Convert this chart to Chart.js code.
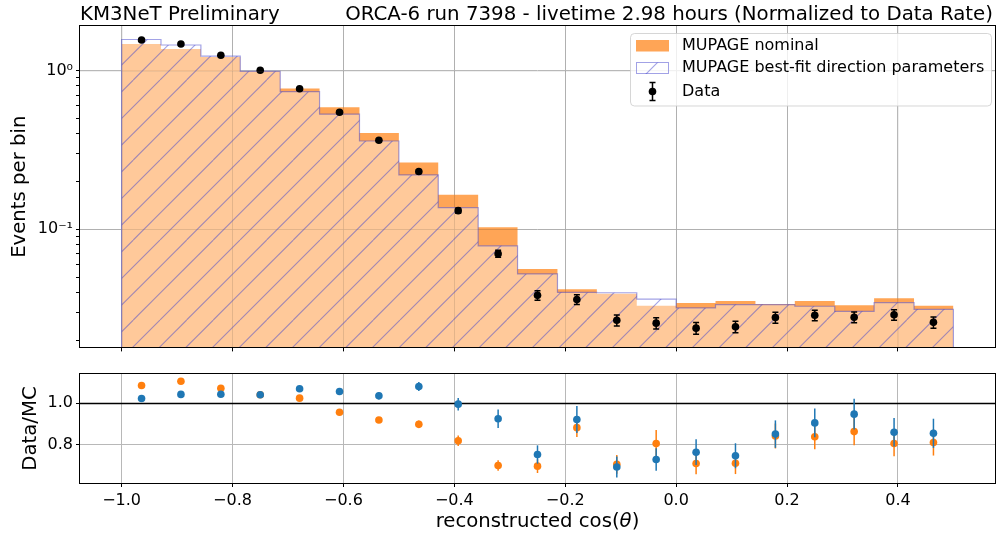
<!DOCTYPE html>
<html><head><meta charset="utf-8">
<script src="https://cdn.jsdelivr.net/npm/chart.js@4"></script>
<style>
html,body{margin:0;padding:0;background:#fff;}
#wrap{position:relative;width:1003px;height:535px;overflow:hidden;}
#c1{position:absolute;left:0;top:0;}
#c2{position:absolute;left:0;top:360px;}
</style></head><body>
<div id="wrap"><canvas id="c1" width="1003" height="360"></canvas><canvas id="c2" width="1003" height="175"></canvas></div>
<script>
// ---------------- data ----------------
const binEdges = [-1.0, -0.929, -0.857, -0.786, -0.714, -0.643, -0.571, -0.5, -0.429, -0.357, -0.286,
                  -0.214, -0.143, -0.071, 0.0, 0.071, 0.143, 0.214, 0.286, 0.357, 0.429, 0.5];
const binCenters = [-0.964, -0.893, -0.821, -0.75, -0.679, -0.607, -0.536, -0.464, -0.393, -0.321, -0.25,
                    -0.179, -0.107, -0.036, 0.036, 0.107, 0.179, 0.25, 0.321, 0.393, 0.464];
const mupageNominal = [1.47, 1.37, 1.22, 0.99, 0.772, 0.587, 0.404, 0.263, 0.165, 0.103, 0.0562,
                       0.0419, 0.0392, 0.0329, 0.0343, 0.0353, 0.0338, 0.0353, 0.0332, 0.0367, 0.0329];
const mupageBestFit = [1.57, 1.45, 1.235, 0.99, 0.736, 0.531, 0.360, 0.220, 0.137, 0.0786, 0.0523,
                       0.0400, 0.0398, 0.0363, 0.0319, 0.0335, 0.0335, 0.0327, 0.0304, 0.0345, 0.0313];
const dataRate = [1.56, 1.47, 1.25, 1.005, 0.768, 0.546, 0.364, 0.231, 0.131, 0.0701, 0.0383,
                  0.0361, 0.0267, 0.0256, 0.0238, 0.0243, 0.0278, 0.0287, 0.0279, 0.0289, 0.0259];
const dataRateErr = [0.016, 0.016, 0.015, 0.013, 0.012, 0.0097, 0.0079, 0.0063, 0.0048, 0.0035, 0.0026,
                     0.0025, 0.0021, 0.0021, 0.0020, 0.0020, 0.0022, 0.0022, 0.0022, 0.0022, 0.0021];
const ratioBestFit = [1.022, 1.042, 1.043, 1.040, 1.069, 1.056, 1.035, 1.080, 0.995, 0.925, 0.753,
                      0.921, 0.693, 0.729, 0.764, 0.747, 0.851, 0.905, 0.947, 0.860, 0.855];
const ratioBestFitErr = [0.008, 0.008, 0.009, 0.010, 0.011, 0.013, 0.016, 0.022, 0.030, 0.044, 0.044,
                         0.065, 0.050, 0.054, 0.062, 0.060, 0.066, 0.069, 0.074, 0.068, 0.070];
const ratioNominal = [1.085, 1.105, 1.071, 1.040, 1.024, 0.956, 0.919, 0.898, 0.819, 0.700, 0.697,
                      0.882, 0.706, 0.806, 0.710, 0.711, 0.842, 0.838, 0.863, 0.806, 0.811];
const ratioNominalErr = [0.008, 0.008, 0.009, 0.010, 0.011, 0.012, 0.014, 0.018, 0.025, 0.025, 0.033,
                         0.045, 0.045, 0.065, 0.052, 0.052, 0.060, 0.060, 0.066, 0.061, 0.063];
const xTicks = [-1.0, -0.8, -0.6, -0.4, -0.2, 0.0, 0.2, 0.4];
const yTopMajorTicks = [0.1, 1];
const yTopMajorLabels = ['10\u207B\u00B9', '10\u2070'];
const yTopMinorTicks = [0.02, 0.03, 0.04, 0.05, 0.06, 0.07, 0.08, 0.09, 0.2, 0.3, 0.4, 0.5, 0.6, 0.7, 0.8, 0.9];
const yRatioTicks = [0.8, 1.0];
const ratioRefLine = 1.0;
const legendLabels = ['MUPAGE nominal', 'MUPAGE best-fit direction parameters', 'Data'];
const titleLeft = 'KM3NeT Preliminary';
const titleRight = 'ORCA-6 run 7398 - livetime 2.98 hours (Normalized to Data Rate)';

// ---------------- style ----------------
const X_MIN = -1.075, X_MAX = 0.575;
const Y_MIN = 0.018, Y_MAX = 1.91;
const R_MIN = 0.616, R_MAX = 1.14;
const FONT = '"DejaVu Sans", sans-serif';
const TICK_PX = 16, LABEL_PX = 19.7, TITLE_PX = 19.8, LEG_PX = 16;
const ORANGE_FILL = 'rgba(255,127,14,0.7)';
const HATCH_COL = 'rgba(70,70,205,0.5)';
const GRID_COL = '#b8b8b8';
const C_BLUE = '#1f77b4', C_ORANGE = '#ff7f0e';
const AXIS_LEFT = 80;

function makeHatch() {
  const s = 80, c = document.createElement('canvas');
  c.width = s; c.height = s;
  const g = c.getContext('2d');
  g.fillStyle = 'rgba(255,255,255,0.4)';
  g.fillRect(0, 0, s, s);
  g.strokeStyle = HATCH_COL; g.lineWidth = 1.1;
  for (let k = -3; k <= 3; k++) {
    const o = k * s / 3;
    g.beginPath(); g.moveTo(o, s); g.lineTo(o + s, 0); g.stroke();
  }
  return g.createPattern(c, 'repeat');
}
const hatch = makeHatch();

function stepPoints(vals) {
  const n = binEdges.length - 1;
  const pts = [{x: binEdges[0], y: Y_MIN}];
  vals.forEach((v, i) => pts.push({x: binEdges[i], y: v}));
  pts.push({x: binEdges[n], y: vals[vals.length - 1]});
  pts.push({x: binEdges[n], y: Y_MIN});
  return pts;
}
const fmtX = v => (v < 0 ? '\u2212' : '') + Math.abs(v).toFixed(1);

const errorBarPlugin = {
  id: 'errbars',
  beforeDatasetDraw(chart, args) {
    const ds = chart.data.datasets[args.index];
    if (!ds.errors) return;
    const ctx = chart.ctx, ys = chart.scales.y, a = chart.chartArea;
    ctx.save();
    ctx.beginPath(); ctx.rect(a.left, a.top, a.right - a.left, a.bottom - a.top); ctx.clip();
    ctx.strokeStyle = ds.errColor; ctx.lineWidth = 1.5;
    ds.data.forEach((p, i) => {
      const x = args.meta.data[i].x;
      const y1 = ys.getPixelForValue(p.y - ds.errors[i]);
      const y2 = ys.getPixelForValue(p.y + ds.errors[i]);
      ctx.beginPath(); ctx.moveTo(x, y1); ctx.lineTo(x, y2);
      if (ds.cap) {
        ctx.moveTo(x - ds.cap, y1); ctx.lineTo(x + ds.cap, y1);
        ctx.moveTo(x - ds.cap, y2); ctx.lineTo(x + ds.cap, y2);
      }
      ctx.stroke();
    });
    ctx.restore();
  }
};

function frame(chart) {
  const ctx = chart.ctx, a = chart.chartArea;
  ctx.save(); ctx.strokeStyle = '#000'; ctx.lineWidth = 1;
  ctx.strokeRect(Math.round(a.left) - 0.5, Math.round(a.top) - 0.5, Math.round(a.right - a.left) + 1, Math.round(a.bottom - a.top) + 1);
  ctx.restore();
}
function vText(ctx, txt, x, y, px) {
  ctx.save(); ctx.translate(x, y); ctx.rotate(-Math.PI / 2);
  ctx.font = px + 'px ' + FONT; ctx.fillStyle = '#000';
  ctx.textAlign = 'center'; ctx.textBaseline = 'middle';
  ctx.fillText(txt, 0, 0); ctx.restore();
}

const topDecor = {
  id: 'topDecor',
  afterDatasetsDraw(chart) {
    // faint grid showing through the filled histograms
    const ctx = chart.ctx, a = chart.chartArea, xs = chart.scales.x, ys = chart.scales.y;
    ctx.save(); ctx.strokeStyle = 'rgba(120,120,120,0.12)'; ctx.lineWidth = 1;
    ctx.beginPath();
    xTicks.forEach(v => { const x = Math.round(xs.getPixelForValue(v)) + 0.5; ctx.moveTo(x, a.top); ctx.lineTo(x, a.bottom); });
    yTopMajorTicks.forEach(v => { const y = Math.round(ys.getPixelForValue(v)) + 0.5; ctx.moveTo(a.left, y); ctx.lineTo(a.right, y); });
    ctx.stroke(); ctx.restore();
  },
  afterDraw(chart) {
    const ctx = chart.ctx, a = chart.chartArea;
    frame(chart);
    // titles
    ctx.save();
    ctx.font = TITLE_PX + 'px ' + FONT; ctx.fillStyle = '#000'; ctx.textBaseline = 'alphabetic';
    ctx.textAlign = 'left'; ctx.fillText(titleLeft, a.left, 19.5);
    ctx.textAlign = 'right'; ctx.fillText(titleRight, a.right - 2, 19.5);
    ctx.restore();
    vText(ctx, 'Events per bin', 20, (a.top + a.bottom) / 2, LABEL_PX);
    // legend
    ctx.save();
    const bx = 630.5, by = 33.5, bw = 361, bh = 72.5, r = 4;
    ctx.beginPath();
    ctx.moveTo(bx + r, by); ctx.lineTo(bx + bw - r, by); ctx.arcTo(bx + bw, by, bx + bw, by + r, r);
    ctx.lineTo(bx + bw, by + bh - r); ctx.arcTo(bx + bw, by + bh, bx + bw - r, by + bh, r);
    ctx.lineTo(bx + r, by + bh); ctx.arcTo(bx, by + bh, bx, by + bh - r, r);
    ctx.lineTo(bx, by + r); ctx.arcTo(bx, by, bx + r, by, r); ctx.closePath();
    ctx.fillStyle = 'rgba(255,255,255,0.8)'; ctx.fill();
    ctx.strokeStyle = 'rgba(204,204,204,0.8)'; ctx.lineWidth = 1; ctx.stroke();
    const rows = [45.5, 68, 91.5];
    ctx.fillStyle = ORANGE_FILL; ctx.fillRect(636, 40, 33, 11.5);
    ctx.fillStyle = hatch; ctx.fillRect(636, 62.5, 33, 11.5);
    ctx.strokeStyle = HATCH_COL; ctx.strokeRect(636.5, 62.5, 32, 11);
    ctx.strokeStyle = '#000'; ctx.lineWidth = 1.5;
    ctx.beginPath();
    ctx.moveTo(652.5, rows[2] - 9); ctx.lineTo(652.5, rows[2] + 9);
    ctx.moveTo(649.5, rows[2] - 9); ctx.lineTo(655.5, rows[2] - 9);
    ctx.moveTo(649.5, rows[2] + 9); ctx.lineTo(655.5, rows[2] + 9);
    ctx.stroke();
    ctx.fillStyle = '#000'; ctx.beginPath(); ctx.arc(652.5, rows[2], 3.8, 0, Math.PI * 2); ctx.fill();
    ctx.font = LEG_PX + 'px ' + FONT; ctx.textAlign = 'left'; ctx.textBaseline = 'middle';
    legendLabels.forEach((t, i) => ctx.fillText(t, 682, rows[i]));
    ctx.restore();
  }
};

const botDecor = {
  id: 'botDecor',
  beforeDatasetsDraw(chart) {
    const ctx = chart.ctx, a = chart.chartArea;
    const y = Math.round(chart.scales.y.getPixelForValue(ratioRefLine)) + 0.5;
    ctx.save(); ctx.strokeStyle = '#000'; ctx.lineWidth = 1.5;
    ctx.beginPath(); ctx.moveTo(a.left, y); ctx.lineTo(a.right, y); ctx.stroke(); ctx.restore();
  },
  afterDraw(chart) {
    const ctx = chart.ctx, a = chart.chartArea;
    frame(chart);
    vText(ctx, 'Data/MC', 31, (a.top + a.bottom) / 2, LABEL_PX);
    // x title with italic theta
    const parts = [['reconstructed cos(', 'normal'], ['\u03B8', 'italic'], [')', 'normal']];
    ctx.save(); ctx.fillStyle = '#000'; ctx.textBaseline = 'alphabetic';
    let w = 0;
    parts.forEach(p => { ctx.font = p[1] + ' ' + LABEL_PX + 'px ' + FONT; w += ctx.measureText(p[0]).width; });
    let x = (a.left + a.right) / 2 - w / 2;
    parts.forEach(p => { ctx.font = p[1] + ' ' + LABEL_PX + 'px ' + FONT; ctx.textAlign = 'left'; ctx.fillText(p[0], x, 167); x += ctx.measureText(p[0]).width; });
    ctx.restore();
  }
};

function xScale(showLabels) {
  return {
    type: 'linear', min: X_MIN, max: X_MAX,
    afterBuildTicks: s => { s.ticks = xTicks.map(v => ({value: v})); },
    afterFit: s => { s.height = showLabels ? 52 : 10; },
    border: {display: false},
    grid: {color: GRID_COL, lineWidth: 1, tickLength: 4, tickColor: '#000', tickWidth: 1},
    ticks: {display: showLabels, autoSkip: false, maxRotation: 0, padding: 4, color: '#000',
            font: {family: FONT, size: TICK_PX}, callback: v => fmtX(v)}
  };
}

Chart.defaults.font.family = FONT;

new Chart(document.getElementById('c1'), {
  type: 'line',
  data: {
    datasets: [
      {label: legendLabels[2], data: binCenters.map((x, i) => ({x, y: dataRate[i]})), showLine: false,
       pointRadius: 3.8, pointBackgroundColor: '#000', pointBorderWidth: 0, borderColor: '#000',
       errors: dataRateErr, errColor: '#000', cap: 3, order: 0},
      {label: legendLabels[1], data: stepPoints(mupageBestFit), stepped: 'before', fill: 'start',
       backgroundColor: hatch, borderColor: HATCH_COL, borderWidth: 1.2, pointRadius: 0, order: 1},
      {label: legendLabels[0], data: stepPoints(mupageNominal), stepped: 'before', fill: 'start',
       backgroundColor: ORANGE_FILL, borderColor: 'rgba(0,0,0,0)', borderWidth: 1, pointRadius: 0, order: 2}
    ]
  },
  options: {
    responsive: false, animation: false, events: [],
    layout: {padding: {left: 0, right: 8, top: 26, bottom: 0}},
    plugins: {legend: {display: false}, tooltip: {enabled: false}},
    scales: {
      x: xScale(false),
      y: {
        type: 'logarithmic', min: Y_MIN, max: Y_MAX,
        afterBuildTicks: s => {
          s.ticks = yTopMinorTicks.map(v => ({value: v, major: false}))
            .concat(yTopMajorTicks.map(v => ({value: v, major: true})))
            .sort((p, q) => p.value - q.value);
        },
        afterFit: s => { s.width = AXIS_LEFT; },
        border: {display: false},
        grid: {
          color: c => (c.tick && c.tick.major) ? GRID_COL : 'rgba(0,0,0,0)',
          lineWidth: 1, tickLength: 4, tickColor: '#000', tickWidth: 1
        },
        ticks: {
          autoSkip: false, padding: 3, color: '#000', font: {family: FONT, size: TICK_PX},
          callback: v => { const k = yTopMajorTicks.indexOf(v); return k >= 0 ? yTopMajorLabels[k] : ''; }
        }
      }
    }
  },
  plugins: [errorBarPlugin, topDecor]
});

new Chart(document.getElementById('c2'), {
  type: 'line',
  data: {
    datasets: [
      {label: 'best-fit', data: binCenters.map((x, i) => ({x, y: ratioBestFit[i]})), showLine: false,
       pointRadius: 3.8, pointBackgroundColor: C_BLUE, pointBorderWidth: 0, borderColor: C_BLUE,
       errors: ratioBestFitErr, errColor: C_BLUE, cap: 0, order: 0},
      {label: 'nominal', data: binCenters.map((x, i) => ({x, y: ratioNominal[i]})), showLine: false,
       pointRadius: 3.8, pointBackgroundColor: C_ORANGE, pointBorderWidth: 0, borderColor: C_ORANGE,
       errors: ratioNominalErr, errColor: C_ORANGE, cap: 0, order: 1}
    ]
  },
  options: {
    responsive: false, animation: false, events: [],
    layout: {padding: {left: 0, right: 8, top: 14, bottom: 0}},
    plugins: {legend: {display: false}, tooltip: {enabled: false}},
    scales: {
      x: xScale(true),
      y: {
        type: 'linear', min: R_MIN, max: R_MAX,
        afterBuildTicks: s => { s.ticks = yRatioTicks.map(v => ({value: v})); },
        afterFit: s => { s.width = AXIS_LEFT; },
        border: {display: false},
        grid: {color: GRID_COL, lineWidth: 1, tickLength: 4, tickColor: '#000', tickWidth: 1},
        ticks: {autoSkip: false, padding: 3, color: '#000', font: {family: FONT, size: TICK_PX},
                callback: v => v.toFixed(1)}
      }
    }
  },
  plugins: [errorBarPlugin, botDecor]
});
</script>
</body></html>
